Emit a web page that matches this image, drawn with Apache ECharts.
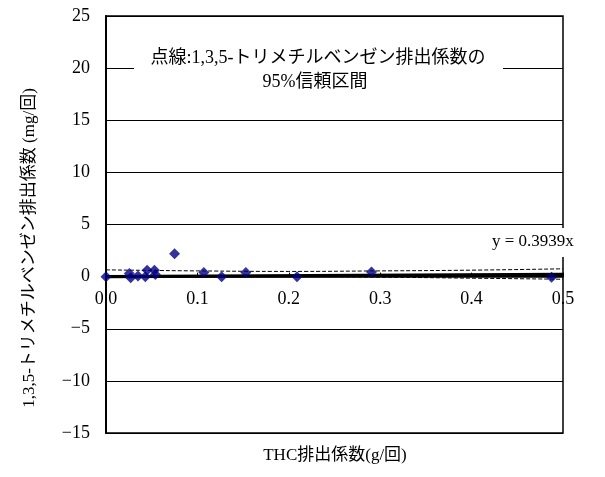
<!DOCTYPE html>
<html>
<head>
<meta charset="utf-8">
<script src="https://cdn.jsdelivr.net/npm/echarts@6/dist/echarts.min.js"></script>
<style>
  html, body { margin: 0; padding: 0; background: #fff; }
  #chart { width: 605px; height: 477px; }
</style>
</head>
<body>
<div id="chart"></div>
<script>
// THC排出係数 (g/回) vs 1,3,5-トリメチルベンゼン排出係数 (mg/回)
const thcX = [0.0, 0.0255, 0.027, 0.035, 0.043, 0.045, 0.053, 0.054, 0.075, 0.107, 0.1265, 0.153, 0.209, 0.2905, 0.4875];
const tmbY = [0.0, 0.3, -0.1, 0.05, 0.0, 0.6, 0.6, 0.2, 2.2, 0.4, 0.0, 0.4, 0.0, 0.45, -0.05];

// 回帰直線 y = 0.3939x
const fitX = [0, 0.5];
const fitY = [0, 0.197];

// 95%信頼区間 (点線)
const bandX = [0, 0.1, 0.2, 0.3, 0.4, 0.5];
const upperY = [0.65, 0.55, 0.5, 0.55, 0.62, 0.75];
const lowerY = [-0.05, 0.0, 0.0, -0.05, -0.15, -0.25];

const xTicks = [0, 0.1, 0.2, 0.3, 0.4, 0.5];
const yTicks = [-15, -10, -5, 0, 5, 10, 15, 20, 25];

const serif = '"Liberation Serif", "DejaVu Serif", "Noto Sans CJK JP", serif';
const jp = '"Liberation Serif", "Noto Sans CJK JP", serif';

function pairs (xs, ys) {
  return xs.map((x, i) => [x, ys[i]])
}

const gridTop = 16
const gridBottom = 44
const plotH = 477 - gridTop - gridBottom
// x軸はy=0の位置に置く
const zeroOffset = -plotH * (0 - yTicks[0]) / (yTicks[yTicks.length - 1] - yTicks[0])

let myChart = echarts.init(document.getElementById('chart'))
let option = {
  animation: false,
  grid: {
    left: 106,
    right: 42,
    top: gridTop,
    bottom: gridBottom,
    show: true,
    borderColor: '#000',
    borderWidth: 1.5
  },
  xAxis: {
    type: 'value',
    min: xTicks[0],
    max: xTicks[xTicks.length - 1],
    interval: 0.1,
    offset: zeroOffset,
    axisLine: { onZero: false, lineStyle: { color: '#000', width: 1.5 } },
    axisTick: { show: true, inside: true, length: 4, lineStyle: { color: '#000' } },
    axisLabel: {
      color: '#000',
      fontSize: 18,
      fontFamily: serif,
      margin: 14,
      formatter: v => v.toFixed(1)
    },
    splitLine: { show: false }
  },
  yAxis: {
    type: 'value',
    min: yTicks[0],
    max: yTicks[yTicks.length - 1],
    interval: 5,
    axisLine: { show: true, onZero: false, lineStyle: { color: '#000', width: 2 } },
    axisTick: { show: false },
    axisLabel: {
      color: '#000',
      fontSize: 18,
      fontFamily: serif,
      margin: 16,
      formatter: v => String(v).replace('-', '\u2212')
    },
    splitLine: { show: true, lineStyle: { color: '#000', width: 1 } }
  },
  series: [
    {
      type: 'line',
      data: pairs(bandX, upperY),
      symbol: 'none',
      smooth: true,
      lineStyle: { color: '#000', width: 1, type: [4, 2] },
      z: 2
    },
    {
      type: 'line',
      data: pairs(bandX, lowerY),
      symbol: 'none',
      smooth: true,
      lineStyle: { color: '#000', width: 1, type: [4, 2] },
      z: 2
    },
    {
      type: 'line',
      data: pairs(fitX, fitY),
      symbol: 'none',
      lineStyle: { color: '#000', width: 3.5 },
      z: 3
    },
    {
      type: 'scatter',
      data: pairs(thcX, tmbY),
      symbol: 'diamond',
      symbolSize: 11,
      itemStyle: { color: '#000080' },
      z: 4
    }
  ],
  graphic: [
    {
      type: 'rect',
      shape: { x: 134, y: 38, width: 369, height: 64 },
      style: { fill: '#fff' },
      z: 10
    },
    {
      type: 'text',
      x: 318,
      y: 58,
      style: {
        text: '点線:1,3,5-トリメチルベンゼン排出係数の',
        font: '18px ' + jp,
        fill: '#000',
        align: 'center',
        verticalAlign: 'middle'
      },
      z: 11
    },
    {
      type: 'text',
      x: 315,
      y: 82,
      style: {
        text: '95%信頼区間',
        font: '18px ' + jp,
        fill: '#000',
        align: 'center',
        verticalAlign: 'middle'
      },
      z: 11
    },
    {
      type: 'rect',
      shape: { x: 488, y: 228, width: 90, height: 29 },
      style: { fill: '#fff' },
      z: 10
    },
    {
      type: 'text',
      x: 492,
      y: 242,
      style: {
        text: 'y = 0.3939x',
        font: '17px ' + serif,
        fill: '#000',
        align: 'left',
        verticalAlign: 'middle'
      },
      z: 11
    },
    {
      type: 'text',
      x: 30,
      y: 248,
      rotation: Math.PI / 2,
      style: {
        text: '1,3,5-トリメチルベンゼン排出係数 (mg/回)',
        font: '17px ' + jp,
        fill: '#000',
        align: 'center',
        verticalAlign: 'middle'
      }
    },
    {
      type: 'text',
      x: 335,
      y: 456,
      style: {
        text: 'THC排出係数(g/回)',
        font: '17px ' + jp,
        fill: '#000',
        align: 'center',
        verticalAlign: 'middle'
      }
    }
  ]
}
myChart.setOption(option)
</script>
</body>
</html>
